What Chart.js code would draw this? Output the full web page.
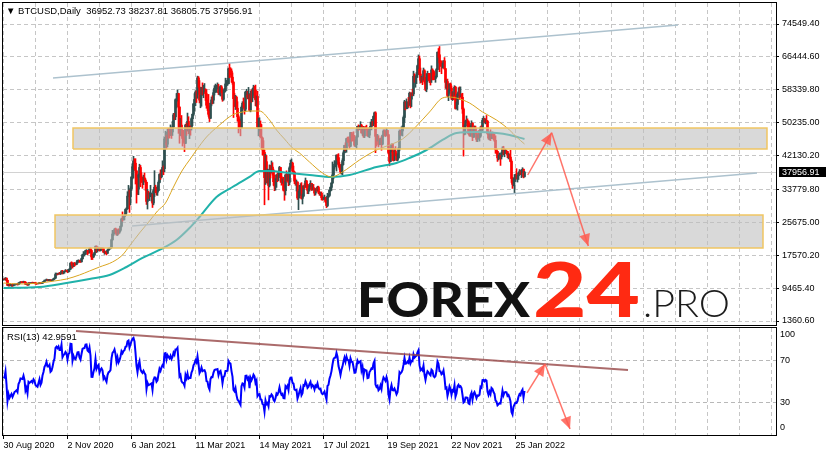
<!DOCTYPE html>
<html>
<head>
<meta charset="utf-8">
<script src="https://cdn.jsdelivr.net/npm/chart.js@4.4.1/dist/chart.umd.min.js"></script>
<style>
  html, body { margin: 0; padding: 0; background: #fff; }
  #wrap { position: relative; width: 827px; height: 455px; overflow: hidden; background: #fff; }
  #mainBox { position: absolute; left: 0; top: 0; width: 827px; height: 326px; }
  #rsiBox { position: absolute; left: 0; top: 326px; width: 827px; height: 129px; }
  #overlay { position: absolute; left: 0; top: 0; pointer-events: none; }
</style>
</head>
<body>
<div id="wrap">
  <div id="mainBox"><canvas id="mainChart"></canvas></div>
  <div id="rsiBox"><canvas id="rsiChart"></canvas></div>
  <svg id="overlay" width="827" height="455" xmlns="http://www.w3.org/2000/svg">
    <text x="6" y="13.5" font-family="Liberation Sans, Arial, sans-serif" font-size="9.5" fill="#000" xml:space="preserve">▼ BTCUSD,Daily  36952.73 38237.81 36805.75 37956.91</text>
    <text x="7" y="339.5" font-family="Liberation Sans, Arial, sans-serif" font-size="9.5" fill="#000">RSI(13) 42.9591</text>
    <g font-family="Lato, 'Open Sans', sans-serif">
      <text x="357" y="317" font-size="47" font-weight="900" textLength="173" lengthAdjust="spacingAndGlyphs" fill="#121212">FOREX</text>
      <text x="533" y="317" font-size="76" font-weight="900" textLength="107" lengthAdjust="spacingAndGlyphs" fill="#ff2a12">24</text>
      <text x="643" y="317" font-size="38" font-weight="300" textLength="87" lengthAdjust="spacingAndGlyphs" fill="#1c1c1c">.PRO</text>
    </g>
  </svg>
</div>
<script>
// closes before the first visible bar (1 Jul - 29 Aug 2020), only used to warm up the RSI
const warmupClose = [
  9230, 9090, 9060, 9130, 9070, 9340, 9250, 9430, 9240, 9290, 9240, 9300, 9240, 9250, 9190, 9130,
  9150, 9170, 9210, 9160, 9390, 9540, 9610, 9550, 9710, 9930, 11030, 10910, 11100, 11110, 11320,
  11800, 11070, 11230, 11190, 11740, 11770, 11600, 11750, 11680, 11880, 11410, 11580, 11780, 11770,
  11870, 11910, 12250, 11990, 11750, 11880, 11590, 11680, 11650, 11760, 11330, 11460, 11320, 11530, 11470
];

// daily bars, 30 Aug 2020 - 3 Feb 2022 (open = previous close)
const close = [
  11680, 11650,
  // sep 2020
  11920, 11390, 10170, 10530, 10170, 10280, 10370, 10130, 10240, 10360, 10400, 10440, 10330, 10680, 10790,
  10950, 10940, 10930, 11080, 10920, 10420, 10530, 10240, 10740, 10690, 10730, 10770, 10710, 10840, 10780,
  // oct
  10620, 10580, 10550, 10670, 10790, 10600, 10670, 10920, 11060, 11300, 11380, 11550, 11430, 11430, 11500, 11330,
  11370, 11510, 11750, 11920, 12820, 12970, 12930, 13120, 13030, 13030, 13650, 13270, 13460, 13560, 13780,
  // nov
  13740, 13550, 14020, 14150, 15590, 15580, 14830, 15480, 15330, 15300, 15700, 16280, 16320, 16070, 15960,
  16720, 17650, 17800, 17820, 18680, 18710, 18420, 18370, 19160, 18720, 17150, 17140, 17720, 18180, 19700,
  // dec
  18790, 19220, 19450, 18700, 19150, 19360, 19170, 18320, 18550, 18250, 18030, 18800, 19140, 19250, 19440, 21380,
  22800, 23130, 23870, 23480, 22740, 23780, 23240, 23730, 24710, 26490, 26280, 27080, 27360, 28840, 29000,
  // jan 2021 (no 1 Jan bar)
  32130, 32780, 31970, 33990, 36820, 39370, 40800, 40250, 38350, 35570, 33920, 37320, 39190, 36820, 36180,
  35790, 36630, 36070, 35550, 30830, 33000, 32080, 32260, 32370, 32570, 30430, 33470, 34320, 34270, 33110,
  // feb
  33520, 35510, 37470, 36930, 38290, 39190, 38900, 46200, 46480, 44920, 47910, 47500, 47110, 48720,
  47940, 49200, 52150, 51680, 55890, 55920, 57410, 54090, 48890, 49640, 47050, 46340, 46190, 45140,
  // mar
  49630, 48380, 50540, 48560, 48930, 48920, 51210, 52300, 54880, 55960, 57770, 57230, 61250, 59000, 55790, 56950,
  58920, 57650, 58030, 58100, 57350, 54530, 54340, 52300, 51310, 55030, 55840, 55780, 57630, 58730, 58920,
  // apr
  58970, 59100, 57620, 58760, 59060, 58020, 56000, 57830, 58150, 59780, 59790, 59870, 63500, 63110, 62980,
  61440, 60160, 56150, 55630, 56470, 53790, 51700, 51090, 50050, 49000, 54020, 55030, 54820, 53560, 57750,
  // may
  57830, 56630, 57200, 53330, 57420, 56400, 57360, 58800, 58230, 55860, 56700, 49150, 49720, 49880, 46760, 46450,
  43540, 42900, 36690, 40630, 37290, 37720, 34770, 38710, 38400, 39290, 38440, 35690, 34650, 35680, 37330,
  // jun
  36690, 37570, 39190, 36870, 35520, 35800, 33590, 33470, 37350, 36680, 37330, 35550, 39100, 40220, 40250,
  38350, 38050, 35820, 35480, 35600, 31680, 32500, 33680, 34660, 31590, 32160, 34640, 34430, 35870, 35040,
  // jul
  33570, 33900, 34690, 35290, 33750, 34240, 33860, 32880, 33820, 33520, 34260, 33090, 32730, 32820, 31780, 31420,
  31530, 31800, 30820, 29810, 32110, 32310, 33580, 34290, 35380, 37340, 39400, 40010, 40020, 42240, 41630,
  // aug
  39970, 39200, 38150, 39750, 40870, 42820, 44610, 43810, 46290, 45600, 45570, 44430, 47790, 47100, 47050, 46000,
  44700, 44800, 46720, 49340, 48900, 49320, 49550, 47710, 48990, 46940, 49060, 48900, 48830, 47050, 47170,
  // sep
  48850, 49330, 50030, 49940, 51770, 52660, 46870, 46080, 46370, 44850, 45160, 46060, 44960, 47090, 48180,
  47780, 47300, 48310, 47260, 42900, 40690, 43570, 44890, 42840, 42720, 43210, 42240, 41030, 41560, 43790,
  // oct
  48120, 47710, 48200, 49110, 51510, 55360, 53810, 53970, 54970, 54660, 57470, 56040, 57400, 57320, 61670, 60880,
  61530, 62050, 64260, 65990, 62210, 60690, 61290, 60860, 63030, 60360, 58480, 60620, 62230, 61890, 61320,
  // nov
  61000, 63230, 62940, 61450, 61130, 61530, 63330, 67560, 66970, 64990, 64950, 64160, 64470, 65470, 63560,
  60160, 60370, 56940, 58120, 59750, 58730, 56290, 57570, 57170, 58960, 53730, 54720, 57270, 57810, 56950,
  // dec
  57180, 56480, 53600, 49150, 49400, 50580, 50580, 50470, 47550, 47140, 49390, 50050, 46700, 48340, 48860, 47630,
  46130, 46830, 46680, 46910, 48940, 48630, 50780, 50820, 50430, 50810, 50640, 47590, 46440, 47180, 46310,
  // jan 2022
  47690, 47350, 46460, 45900, 43570, 43160, 41560, 41730, 41910, 41820, 42740, 43950, 42590, 43100, 43180, 43110,
  42250, 42380, 41740, 40700, 36460, 35030, 36280, 36650, 36950, 36850, 37140, 37780, 38170, 37920, 38480,
  // feb
  38740, 36952.73, 37956.91
];

const high = [
  11720, 11790,
  12070, 11950, 11460, 10630, 10560, 10330, 10400, 10440, 10350, 10500, 10450, 10480, 10570, 10790, 10930,
  11080, 11050, 11030, 11180, 11080, 10980, 10570, 10560, 10780, 10770, 10780, 10800, 10950, 10860, 10860,
  10920, 10660, 10600, 10690, 10800, 10800, 10690, 10940, 11100, 11480, 11440, 11720, 11560, 11550, 11630, 11540,
  11420, 11520, 11820, 12010, 13190, 13170, 13000, 13160, 13340, 13240, 13770, 13840, 13610, 13660, 14050,
  13900, 13820, 14070, 14240, 15750, 15950, 15750, 15650, 15800, 15490, 15950, 16340, 16450, 16340, 16150,
  16850, 17830, 18480, 18180, 18800, 18960, 18750, 18770, 19350, 19450, 18900, 17450, 17850, 18290, 19860,
  19890, 19300, 19580, 19510, 19170, 19410, 19390, 19290, 18630, 18560, 18280, 18940, 19370, 19350, 19540, 21540,
  23700, 23260, 24150, 24270, 24090, 23800, 24090, 23790, 24770, 26720, 28250, 27370, 27390, 28990, 29290,
  33230, 34780, 33600, 34440, 36940, 40180, 41950, 41350, 41350, 38400, 36600, 37600, 40000, 39700, 37880,
  36850, 37300, 37850, 36420, 35600, 33830, 33360, 32940, 34800, 32920, 32640, 33780, 38410, 34830, 34290,
  34640, 35900, 37660, 38590, 38700, 40840, 39580, 46680, 48130, 47160, 48660, 48850, 48040, 49680,
  49050, 50540, 52530, 52530, 56110, 57420, 58330, 57490, 54120, 51310, 52000, 48340, 48360, 46570,
  49840, 50100, 52600, 51700, 49400, 49470, 51450, 52390, 54900, 57390, 58110, 58060, 61700, 61600, 60600, 57000,
  58960, 60040, 59450, 59880, 58590, 58390, 55840, 57200, 53130, 55060, 56570, 56900, 58360, 59360, 59750,
  59490, 60040, 59710, 59040, 59400, 59350, 58630, 58380, 58700, 61200, 60650, 61170, 63700, 64850, 63790,
  63510, 62500, 60400, 57500, 57000, 56760, 55400, 52120, 51130, 50550, 54350, 55410, 56330, 55120, 57950,
  58460, 57970, 58930, 57220, 58040, 58350, 58650, 59460, 59200, 59500, 56830, 58000, 51350, 51440, 50670, 49770,
  46580, 45800, 43500, 42460, 42170, 38800, 38230, 39830, 39730, 40800, 40380, 38800, 37250, 36430, 37460,
  37900, 38230, 39460, 39230, 37840, 36430, 36790, 34000, 37460, 38360, 37620, 37430, 39390, 41000, 41300,
  40500, 39540, 38180, 36400, 36100, 35650, 33300, 34800, 35230, 35460, 32650, 34700, 35200, 36600, 36000,
  35100, 33940, 34910, 35940, 35300, 35050, 35010, 33900, 34020, 34200, 34570, 34590, 33300, 33100, 33170, 32240,
  31950, 32400, 31880, 31060, 32840, 32570, 33650, 34440, 35390, 40550, 39500, 40880, 40610, 42290, 42320,
  42600, 40420, 39750, 39960, 41350, 43270, 44690, 45280, 46400, 46670, 46740, 46170, 47870, 47830, 47350, 47990,
  47100, 46000, 46990, 49380, 49690, 49380, 50480, 49810, 49150, 49330, 49180, 49290, 49620, 48860, 48200,
  49100, 50400, 51050, 50560, 51900, 52850, 52920, 47340, 47350, 47030, 45970, 46440, 46800, 47220, 48450,
  48480, 48140, 48800, 48360, 47330, 43600, 44000, 45000, 45040, 42950, 43920, 44350, 42780, 42560, 44130,
  48450, 48370, 49200, 49480, 51880, 55750, 55400, 56100, 55410, 56480, 57780, 57630, 57620, 58500, 62920, 62280,
  61690, 62600, 64430, 66930, 66640, 63700, 61720, 61480, 63700, 63290, 61410, 62330, 62930, 62400, 62370,
  62420, 64240, 63520, 63090, 62590, 61720, 63600, 67700, 68520, 69000, 65600, 65450, 64900, 65500, 66280,
  63560, 60800, 60980, 58310, 59850, 60020, 59270, 57870, 57690, 59350, 59180, 55310, 57380, 58860, 59050,
  59040, 57360, 57480, 53870, 49700, 50880, 51890, 51170, 50730, 50040, 49460, 50700, 50210, 48620, 49440, 49390,
  47980, 47310, 48300, 47440, 49280, 49520, 51310, 51760, 51320, 51200, 52000, 50650, 48090, 47840, 48480,
  47850, 47950, 47550, 47500, 47000, 43750, 43200, 42280, 42770, 42200, 43000, 44300, 44420, 43380, 43680, 43450,
  43160, 42640, 42520, 43440, 41070, 36780, 36560, 37460, 37520, 38900, 37200, 38000, 38680, 38310, 38660,
  39140, 38840, 38237.81
];

const low = [
  11440, 11560,
  11470, 11210, 10080, 9950, 9960, 10100, 9880, 9870, 10010, 10220, 10230, 10330, 10210, 10280, 10640,
  10680, 10800, 10770, 10870, 10780, 10370, 10360, 10150, 10200, 10600, 10640, 10650, 10670, 10640, 10650,
  10430, 10370, 10510, 10500, 10610, 10530, 10580, 10630, 10810, 11040, 11280, 11250, 11250, 11270, 11280, 11230,
  11280, 11350, 11420, 11670, 11900, 12700, 12720, 12900, 12910, 12800, 12980, 12950, 12980, 13140, 13540,
  13620, 13250, 13370, 13560, 14110, 15160, 14400, 14730, 14880, 15090, 15260, 15640, 15980, 15800, 15800,
  15870, 16560, 17330, 17380, 17750, 18440, 17700, 18010, 18100, 18600, 16500, 16520, 17000, 17550, 18180,
  18330, 18350, 18920, 18630, 18610, 19000, 19000, 18250, 17790, 17950, 17630, 18020, 18790, 19020, 19130, 19380,
  21250, 22390, 22800, 23140, 22470, 22420, 22760, 22960, 23480, 24530, 25950, 26260, 26270, 27320, 27910,
  28950, 32040, 28130, 29960, 33510, 36360, 36570, 38720, 35110, 30420, 32530, 32480, 36800, 34450, 35490,
  34070, 34950, 35900, 33540, 30080, 28950, 31530, 31030, 31970, 30900, 29330, 29990, 32010, 32950, 32380,
  32310, 33420, 35390, 36270, 36640, 38180, 37400, 38140, 45400, 43760, 44270, 46400, 46460, 47100,
  46350, 47070, 48990, 50960, 50960, 53860, 55550, 47600, 45160, 47050, 46880, 44460, 45460, 43100,
  45070, 47100, 48160, 47500, 46300, 47140, 48410, 49500, 51930, 53200, 54430, 55210, 56240, 58960, 55100, 53910,
  54280, 57080, 56380, 57860, 55700, 53780, 53230, 51790, 50500, 51250, 54380, 54850, 54980, 57040, 57760,
  57700, 58500, 57170, 57060, 56800, 57600, 55500, 55730, 57630, 57950, 59150, 59400, 59780, 61300, 62020,
  60200, 59700, 51500, 54200, 53470, 53700, 50580, 47700, 48830, 46990, 48860, 53210, 53960, 52330, 53100,
  57110, 56100, 56100, 53130, 52900, 55300, 55420, 56980, 56270, 54400, 54230, 48860, 46980, 48200, 46620, 43900,
  42230, 42470, 30000, 35000, 35400, 35300, 31200, 34400, 36600, 37800, 37300, 34800, 33460, 33600, 34280,
  35700, 35950, 37180, 35580, 34830, 35300, 33390, 31100, 32400, 35800, 35980, 34700, 34900, 38800, 39550,
  38200, 37400, 35180, 34800, 33400, 31300, 28800, 31700, 32300, 31400, 30200, 32000, 33900, 34280, 34200,
  32730, 32720, 33350, 34480, 33510, 33590, 33660, 32300, 32410, 33380, 33410, 32710, 32340, 32260, 31190, 31100,
  31300, 31400, 30550, 29300, 29550, 31750, 32060, 33340, 33540, 35270, 36400, 38790, 39320, 38310, 41000,
  39500, 38730, 37640, 37550, 37400, 39880, 42800, 43300, 42930, 45400, 45400, 43890, 44300, 45620, 45730, 45760,
  44400, 44300, 43950, 46690, 48320, 48520, 49040, 47650, 47120, 46600, 46540, 48430, 48500, 46850, 46720,
  46520, 48620, 48450, 49450, 49460, 51080, 42840, 44460, 45700, 44250, 44770, 44810, 43440, 44770, 46760,
  47060, 46800, 47060, 46900, 42500, 39600, 40570, 43100, 40900, 40770, 40870, 42120, 40930, 40800, 41450,
  43300, 47150, 47100, 46950, 49070, 50380, 53390, 53690, 53660, 54100, 54470, 53880, 54200, 56870, 56850, 60170,
  58960, 59860, 61360, 63550, 62000, 60000, 60160, 59600, 60700, 59960, 58100, 57850, 60330, 60670, 60100,
  59500, 60140, 60780, 60780, 60840, 60180, 61420, 63300, 66330, 62800, 64120, 62300, 63660, 63840, 63350,
  58670, 58500, 56620, 55650, 57470, 58630, 55900, 55690, 55900, 56960, 53570, 53630, 53330, 56800, 55950,
  56640, 55920, 52530, 42000, 47220, 47360, 50200, 48730, 47350, 46880, 46850, 48700, 45800, 46580, 46670, 47520,
  45580, 45550, 46480, 45680, 46630, 48500, 48160, 50560, 50180, 49930, 50480, 47360, 46120, 45970, 45820,
  46290, 46730, 46000, 45600, 42700, 42530, 40680, 41050, 41260, 39700, 41280, 42520, 42340, 41830, 42660, 42620,
  41600, 41290, 41540, 40580, 35500, 34040, 34650, 32950, 35730, 36310, 35600, 36230, 37400, 37400, 36690,
  38040, 36630, 36805.75
];

// moving averages: bar index + value
const maFastIdx = [0, 16, 36, 51, 63, 76, 86, 96, 109, 119, 126, 136, 146, 154, 162, 169, 173, 179, 186, 193, 203, 216, 229, 239, 246,
  256, 266, 273, 281, 289, 296, 306, 319, 328, 339, 356, 373, 386, 399, 413, 426, 439, 446, 453, 466, 479, 493, 506, 513, 521];
const maFastVal = [10730, 10480, 10730, 11220, 11710, 12700, 13680, 14670, 15900, 17630, 19840, 23050, 26000, 28470, 30440, 33890,
  35860, 38570, 41040, 43500, 46700, 49660, 52130, 52870, 53110, 53110, 50890, 48430, 46210, 43990, 42760, 40540, 37830, 36850,
  38080, 41040, 43500, 44730, 46210, 49410, 52870, 56310, 56560, 56310, 55080, 52870, 50890, 48430, 46700, 44980];
const maSlowIdx = [0, 36, 63, 86, 106, 123, 139, 156, 173, 186, 196, 213, 229, 246, 256, 266, 286, 306, 328, 346, 373, 393, 406,
  423, 439, 453, 473, 493, 506, 521];
const maSlowVal = [9490, 9740, 10730, 11710, 12700, 14670, 16890, 18860, 21320, 24280, 26990, 31920, 34380, 36850, 38330, 38330,
  37830, 37340, 36850, 37340, 39310, 40300, 41530, 43500, 45970, 47690, 47940, 47690, 47200, 46210];

// drawings: trend lines, zones and arrows (bar index, price)
const channelTop = [[49.5, 61240], [674.5, 74300]];
const channelBottom = [[128.5, 24770], [753.5, 37830]];
const zoneUpper = { from: 69.5, to: 763.5, top: 48920, bottom: 43750 };
const zoneLower = { from: 51.5, to: 759.5, top: 27480, bottom: 19350 };
const priceArrowUp = [[524.2, 37340], [548.2, 47760]];
const priceArrowDown = [[548.2, 47760], [584.8, 19840]];
const rsiTrend = [[72.5, 97.2], [624.5, 60.7]];
const rsiArrowUp = [[523.5, 39.3], [541.5, 66.4]];
const rsiArrowDown = [[541.5, 66.4], [566.5, 5.6]];

const priceTicks = [1360.6, 9465.4, 17570.2, 25675.0, 33779.8, 42130.2, 50235.0, 58339.8, 66444.6, 74549.4];
const rsiTicks = [100, 70, 30, 0];
const dateTickIdx = [0, 64, 128, 192, 256, 320, 384, 448, 512];
const dateTicks = ['30 Aug 2020', '2 Nov 2020', '6 Jan 2021', '11 Mar 2021', '14 May 2021', '17 Jul 2021',
  '19 Sep 2021', '22 Nov 2021', '25 Jan 2022'];

const UP = '#2f4f4f', DOWN = '#ff0000';
const GRID = '#c6c6c6';
const ARROW = 'rgba(255, 92, 80, 0.85)';

Chart.defaults.font.family = "'Liberation Sans', Arial, sans-serif";
Chart.defaults.font.size = 9;
Chart.defaults.color = '#000';

const open = close.map((c, i) => i === 0 ? warmupClose[warmupClose.length - 1] : close[i - 1]);
const lastClose = close[close.length - 1];
const barColor = close.map((c, i) => c >= open[i] ? UP : DOWN);

// rsi(13), wilder smoothing
function calcRsi(series, period) {
  const out = new Array(series.length).fill(null);
  let up = 0, dn = 0;
  for (let k = 1; k < series.length; k++) {
    const d = series[k] - series[k - 1];
    const g = d > 0 ? d : 0, l = d < 0 ? -d : 0;
    if (k <= period) { up += g / period; dn += l / period; }
    else { up = (up * (period - 1) + g) / period; dn = (dn * (period - 1) + l) / period; }
    if (k >= period) out[k] = dn === 0 ? 100 : 100 - 100 / (1 + up / dn);
  }
  return out;
}
const rsiAll = calcRsi(warmupClose.concat(close), 13);
const rsi = rsiAll.slice(warmupClose.length);

const gridIdx = [];
for (let v = 0; v <= 768; v += 32) gridIdx.push(v);

const pts = arr => arr.map(p => ({ x: p[0], y: p[1] }));
const box = z => [{ x: z.from, y: z.bottom }, { x: z.from, y: z.top }, { x: z.to, y: z.top }, { x: z.to, y: z.bottom }, { x: z.from, y: z.bottom }];

const fitWidth = w => axis => { axis.width = w; axis.paddingTop = 0; axis.paddingBottom = 0; };
const fitHeight = h => axis => { axis.height = h; axis.paddingLeft = 0; axis.paddingRight = 0; };

// plugins
const framePlugin = {
  id: 'frame',
  afterDraw(chart) {
    const { ctx, chartArea: a } = chart;
    ctx.save();
    ctx.strokeStyle = '#000';
    ctx.lineWidth = 1;
    ctx.strokeRect(a.left - 0.5, a.top - 0.5, a.right - a.left + 1, a.bottom - a.top + 1);
    ctx.restore();
  }
};

const arrowHeadPlugin = {
  id: 'arrowHeads',
  afterDatasetsDraw(chart) {
    const ctx = chart.ctx;
    chart.data.datasets.forEach((ds, i) => {
      if (!ds.arrowHead) return;
      const p = chart.getDatasetMeta(i).data;
      const a = p[p.length - 2], b = p[p.length - 1];
      const ang = Math.atan2(b.y - a.y, b.x - a.x);
      ctx.save();
      ctx.translate(b.x, b.y);
      ctx.rotate(ang);
      ctx.beginPath();
      ctx.moveTo(0, 0);
      ctx.lineTo(-12, -5.5);
      ctx.lineTo(-12, 5.5);
      ctx.closePath();
      ctx.fillStyle = ds.borderColor;
      ctx.fill();
      ctx.restore();
    });
  }
};

const bidPlugin = {
  id: 'bid',
  beforeDatasetsDraw(chart) {
    const { ctx, chartArea: a } = chart;
    const y = Math.round(chart.scales.y.getPixelForValue(lastClose)) + 0.5;
    ctx.save();
    ctx.strokeStyle = '#d2d2d2';
    ctx.lineWidth = 1;
    ctx.beginPath();
    ctx.moveTo(a.left, y);
    ctx.lineTo(a.right, y);
    ctx.stroke();
    ctx.restore();
  },
  afterDraw(chart) {
    const { ctx, chartArea: a } = chart;
    const y = Math.round(chart.scales.y.getPixelForValue(lastClose));
    ctx.save();
    ctx.fillStyle = '#000';
    ctx.fillRect(a.right + 3, y - 5, 47, 10);
    ctx.fillStyle = '#fff';
    ctx.font = "9px 'Liberation Sans', Arial, sans-serif";
    ctx.textBaseline = 'middle';
    ctx.fillText(lastClose.toFixed(2), a.right + 6, y + 0.5);
    ctx.restore();
  }
};

const rsiLabelPlugin = {
  id: 'rsiLabels',
  afterDraw(chart) {
    const { ctx, chartArea: a } = chart;
    const s = chart.scales.y;
    ctx.save();
    ctx.font = "9px 'Liberation Sans', Arial, sans-serif";
    ctx.fillStyle = '#000';
    ctx.textBaseline = 'middle';
    rsiTicks.forEach(v => {
      const y = Math.min(Math.max(s.getPixelForValue(v), a.top + 7), a.bottom - 7);
      ctx.fillText(String(v), a.right + 4, y);
    });
    ctx.restore();
  }
};

const xScale = (showLabels) => ({
  type: 'linear',
  min: -0.5,
  max: 772.5,
  offset: false,
  afterBuildTicks: axis => { axis.ticks = gridIdx.map(v => ({ value: v })); },
  afterFit: fitHeight(showLabels ? 20 : 0),
  border: { display: false, dash: [4, 3] },
  grid: {
    color: GRID,
    offset: false,
    drawTicks: showLabels,
    tickLength: 4,
    tickColor: c => dateTickIdx.includes(c.tick && c.tick.value) ? '#000' : 'rgba(0,0,0,0)'
  },
  ticks: {
    display: showLabels,
    autoSkip: false,
    maxRotation: 0,
    minRotation: 0,
    align: 'start',
    padding: 1,
    callback: v => { const k = dateTickIdx.indexOf(v); return k >= 0 ? dateTicks[k] : ''; }
  }
});

// main price panel
const mainData = {
  datasets: [
    {
      // high-low range of each day
      type: 'bar',
      label: 'BTCUSD',
      data: close.map((c, i) => ({ x: i, y: [Math.min(low[i], open[i], c), Math.max(high[i], open[i], c)] })),
      backgroundColor: barColor,
      borderWidth: 0,
      barThickness: 1,
      grouped: false,
      order: 10
    },
    {
      // open-close body
      type: 'bar',
      label: 'body',
      data: close.map((c, i) => ({ x: i, y: [open[i], c] })),
      backgroundColor: barColor,
      borderWidth: 0,
      barThickness: 2,
      grouped: false,
      order: 10
    },
    {
      type: 'line', label: 'ma slow',
      data: maSlowIdx.map((x, k) => ({ x, y: maSlowVal[k] })),
      borderColor: '#20b2aa', borderWidth: 2, pointRadius: 0, cubicInterpolationMode: 'monotone', order: 9
    },
    {
      type: 'line', label: 'ma fast',
      data: maFastIdx.map((x, k) => ({ x, y: maFastVal[k] })),
      borderColor: '#daa520', borderWidth: 1, pointRadius: 0, cubicInterpolationMode: 'monotone', order: 8
    },
    { type: 'line', data: pts(channelTop), borderColor: '#adc2ce', borderWidth: 1.7, pointRadius: 0, order: 7 },
    { type: 'line', data: pts(channelBottom), borderColor: '#adc2ce', borderWidth: 1.7, pointRadius: 0, order: 7 },
    {
      type: 'line', data: box(zoneUpper), borderColor: '#f1c663', borderWidth: 1.5, pointRadius: 0,
      backgroundColor: 'rgba(190,190,190,0.58)', fill: 'shape', tension: 0, order: 6
    },
    {
      type: 'line', data: box(zoneLower), borderColor: '#f1c663', borderWidth: 1.5, pointRadius: 0,
      backgroundColor: 'rgba(190,190,190,0.58)', fill: 'shape', tension: 0, order: 6
    },
    { type: 'line', data: pts(priceArrowUp), borderColor: ARROW, borderWidth: 1.5, pointRadius: 0, arrowHead: true, order: 1 },
    { type: 'line', data: pts(priceArrowDown), borderColor: ARROW, borderWidth: 1.5, pointRadius: 0, arrowHead: true, order: 1 }
  ]
};

const mainChart = new Chart(document.getElementById('mainChart'), {
  type: 'bar',
  data: mainData,
  options: {
    responsive: true,
    maintainAspectRatio: false,
    devicePixelRatio: 1,
    animation: false,
    events: [],
    layout: { padding: { left: 3, top: 3, right: 0, bottom: 1 } },
    plugins: { legend: { display: false }, tooltip: { enabled: false } },
    scales: {
      x: xScale(false),
      y: {
        type: 'linear',
        position: 'right',
        min: 374.9,
        max: 79724.4,
        afterBuildTicks: axis => { axis.ticks = priceTicks.map(v => ({ value: v })); },
        afterFit: fitWidth(51),
        border: { display: false, dash: [4, 3] },
        grid: { color: GRID, drawTicks: true, tickLength: 3, tickColor: '#000' },
        ticks: { padding: 3, autoSkip: false, callback: v => Number(v).toFixed(2) }
      }
    }
  },
  plugins: [bidPlugin, arrowHeadPlugin, framePlugin]
});

// rsi panel
const rsiChart = new Chart(document.getElementById('rsiChart'), {
  type: 'line',
  data: {
    datasets: [
      {
        label: 'RSI(13)',
        data: rsi.map((v, i) => ({ x: i, y: v })),
        borderColor: '#0000ff', borderWidth: 2, pointRadius: 0, tension: 0, order: 3
      },
      { data: pts(rsiTrend), borderColor: 'rgba(150,70,70,0.8)', borderWidth: 2, pointRadius: 0, order: 2 },
      { data: pts(rsiArrowUp), borderColor: ARROW, borderWidth: 1.5, pointRadius: 0, arrowHead: true, order: 1 },
      { data: pts(rsiArrowDown), borderColor: ARROW, borderWidth: 1.5, pointRadius: 0, arrowHead: true, order: 1 }
    ]
  },
  options: {
    responsive: true,
    maintainAspectRatio: false,
    devicePixelRatio: 1,
    animation: false,
    events: [],
    layout: { padding: { left: 3, top: 2, right: 0, bottom: 0 } },
    plugins: { legend: { display: false }, tooltip: { enabled: false } },
    scales: {
      x: xScale(true),
      y: {
        type: 'linear',
        position: 'right',
        min: 0,
        max: 100,
        afterBuildTicks: axis => { axis.ticks = [30, 70].map(v => ({ value: v })); },
        afterFit: fitWidth(51),
        border: { display: false, dash: [4, 3] },
        grid: { color: '#b8b8b8', drawTicks: false },
        ticks: { display: false }
      }
    }
  },
  plugins: [arrowHeadPlugin, rsiLabelPlugin, framePlugin]
});
</script>
</body>
</html>
